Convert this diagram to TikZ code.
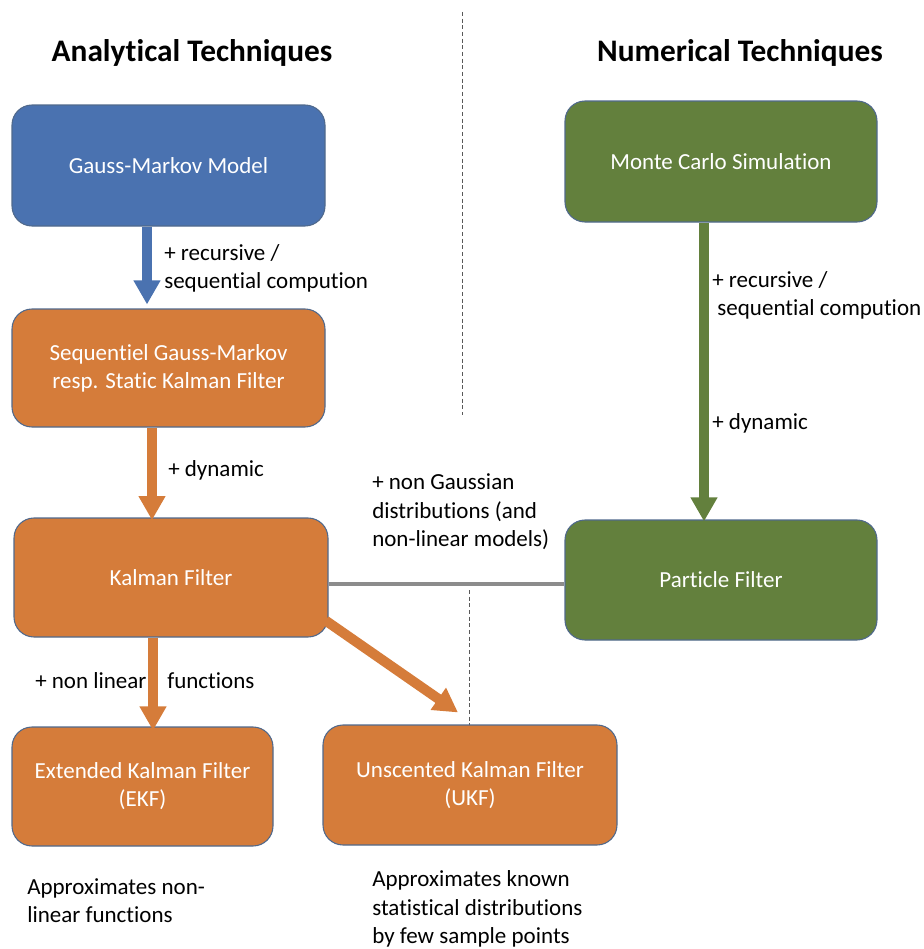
\documentclass[tikz,border=0pt]{standalone}
\usepackage{fontspec}
\setmainfont{Carlito}[Ligatures=NoCommon]
\usetikzlibrary{arrows.meta,calc}

\definecolor{gmblue}{RGB}{74,114,176}
\definecolor{kforange}{RGB}{213,124,58}
\definecolor{mcgreen}{RGB}{99,128,61}
\definecolor{boxedge}{RGB}{80,105,140}
\definecolor{linkgray}{RGB}{140,140,140}

\tikzset{
  box/.style={rounded corners=15pt, draw=boxedge, line width=0.8pt, text=white, align=center,
    font=\fontsize{17.25}{21}\selectfont},
  bluebox/.style={box, fill=gmblue},
  orangebox/.style={box, fill=kforange},
  greenbox/.style={box, fill=mcgreen},
  lbl/.style={inner sep=0pt, align=left, anchor=west, font=\fontsize{17.25}{21.5}\selectfont},
  title/.style={inner sep=0pt, font=\fontsize{23.5}{28}\selectfont\bfseries},
  fatarrow/.style={line width=7.5pt, -{Triangle[width=19pt,length=18pt]}},
}

\begin{document}
\begin{tikzpicture}[x=0.75pt,y=0.75pt,yscale=-1,xscale=1]
\useasboundingbox (0,0) rectangle (924,949);

% separators
\draw [dashed, dash pattern=on 3pt off 2pt, gray!70!black, line width=0.6pt] (462,12) -- (462,415) ;
\draw [dashed, dash pattern=on 3pt off 2pt, gray!70!black, line width=0.6pt] (469,590) -- (469,730) ;

% titles
\node [title] (antitle) at (192,53) {Analytical Techniques};
\node [title] (nutitle) at (740,53) {Numerical Techniques};

% boxes
\node [bluebox, minimum width=313*0.75pt, minimum height=121*0.75pt] (gm) at (168.5,165.5) {Gauss-Markov Model};
\node [orangebox, minimum width=313*0.75pt, minimum height=118*0.75pt] (sgm) at (168.5,368) {Sequentiel Gauss-Markov\\resp. Static Kalman Filter};
\node [orangebox, minimum width=314*0.75pt, minimum height=119*0.75pt] (kf) at (171,577.5) {Kalman Filter};
\node [orangebox, minimum width=261*0.75pt, minimum height=119*0.75pt] (ekf) at (142.5,786.5) {Extended Kalman Filter\\(EKF)};
\node [orangebox, minimum width=294*0.75pt, minimum height=120*0.75pt] (ukf) at (470,785) {Unscented Kalman Filter\\(UKF)};
\node [greenbox, minimum width=312*0.75pt, minimum height=121*0.75pt] (mc) at (721,161.5) {Monte Carlo Simulation};
\node [greenbox, minimum width=312*0.75pt, minimum height=120*0.75pt] (pf) at (721,580) {Particle Filter};

% arrows
\draw [fatarrow, gmblue] ([xshift=-21.5*0.75pt]gm.south) -- ([xshift=-21.5*0.75pt,yshift=-3pt]gm.south |- sgm.north) ;
\draw [fatarrow, kforange] ([xshift=-16.5*0.75pt]sgm.south) -- ([xshift=-16.5*0.75pt,yshift=2pt]sgm.south |- kf.north) ;
\draw [fatarrow, kforange] ([xshift=-18*0.75pt]kf.south) -- ([xshift=-18*0.75pt,yshift=3pt]kf.south |- ekf.north) ;
\draw [fatarrow, kforange] ([shift={(-3,-17)}]kf.south east) -- ([shift={(-12,-12)}]ukf.north) ;
\draw [fatarrow, mcgreen] ([xshift=-17*0.75pt]mc.south) -- ([xshift=-17*0.75pt,yshift=1.5pt]mc.south |- pf.north) ;
\coordinate (kfout) at ([yshift=6.5*0.75pt]kf.east);
\draw [linkgray, line width=3pt] (kfout) -- (kfout -| pf.west) ;

% labels
\node [lbl] (rec1) at (164,268.5) {+ recursive /\\sequential compution};
\node [lbl] (dyn1) at (168,470) {+ dynamic};
\node [lbl] (nongauss) at (372,512) {+ non Gaussian\\distributions (and\\non-linear models)};
\node [lbl] (nonlin) at (35,681) {+ non linear};
\node [lbl] (funcs) at (167,681) {functions};
\node [lbl] (rec2) at (712,295.5) {+ recursive /\\\ sequential compution};
\node [lbl] (dyn2) at (712,423) {+ dynamic};
\node [lbl] (appr1) at (27,900.5) {Approximates non-\\linear functions};
\node [lbl] (appr2) at (372,909) {Approximates known\\statistical distributions\\by few sample points};

\end{tikzpicture}
\end{document}
